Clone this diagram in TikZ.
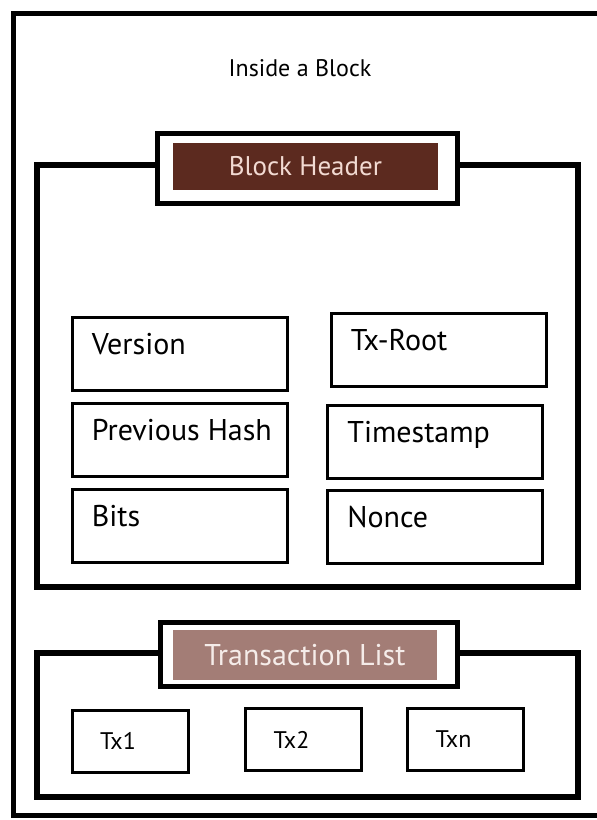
\documentclass[tikz,border=0pt]{standalone}
\usepackage{fontspec}
\setmainfont{PT Sans}
\usetikzlibrary{positioning}
\definecolor{hdrbrown}{HTML}{5C2A1F}
\definecolor{hdrtext}{HTML}{F2DAD2}
\definecolor{tlrose}{HTML}{A37D76}
\definecolor{tltext}{HTML}{F5ECE9}
\tikzset{
  frame/.style={line width=2.5pt},
  section/.style={rectangle, draw, line width=3pt, inner sep=0pt},
  tagbox/.style={rectangle, draw, fill=white, line width=2.5pt, minimum width=150pt, inner sep=0pt},
  field/.style={rectangle, draw, line width=1.5pt, minimum width=107.5pt, minimum height=36.5pt, inner sep=0pt},
  fieldtxt/.style={anchor=north west, inner sep=0pt, xshift=10.5pt, yshift=-8.5pt, font=\fontsize{15}{17}\selectfont},
  txbox/.style={rectangle, draw, line width=1.5pt, minimum width=58pt, minimum height=31pt, inner sep=0pt},
  txtxt/.style={inner sep=0pt, xshift=-6pt, font=\fontsize{12}{14}\selectfont}
}
\begin{document}
\begin{tikzpicture}[x=0.5pt,y=-0.5pt]
        \useasboundingbox (0,0) rectangle (597,820);

        % outer block frame (cut off on the right)
        \coordinate (topright) at (597,13);
        \coordinate (botright) at (597,815);
        \draw[frame] (topright) -| (13,815) -- (botright);
        \node[font=\fontsize{12}{14}\selectfont] (title) at (300,68) {Inside a Block};

        % block header
        \node[section, minimum width=270.5pt, minimum height=211pt] (hdr) at (307.5,376) {};
        \node[tagbox, minimum height=35pt] (hdrtag) at (307,168) {};
        \node[rectangle, fill=hdrbrown, text=hdrtext, minimum width=132.5pt, minimum height=23.5pt,
              font=\fontsize{13.5}{15}\selectfont] (hdrname) at (305.5,166.5) {Block Header};

        \node[field, label={[fieldtxt]north west:Version}] (version) at (179.5,353.5) {};
        \node[field, label={[fieldtxt]north west:Tx-Root}] (txroot) at (438.5,350) {};
        \node[field, label={[fieldtxt]north west:Previous Hash}] (prevhash) at (179.5,440) {};
        \node[field, label={[fieldtxt]north west:Timestamp}] (timestamp) at (435,441.5) {};
        \node[field, label={[fieldtxt]north west:Bits}] (bits) at (179.5,525.5) {};
        \node[field, label={[fieldtxt]north west:Nonce}] (nonce) at (435,526.5) {};

        % transaction list
        \node[section, minimum width=270.5pt, minimum height=72pt] (txlist) at (307.5,725) {};
        \node[tagbox, minimum width=148.5pt, minimum height=32pt] (txtag) at (308.5,654) {};
        \node[rectangle, fill=tlrose, text=tltext, minimum width=132pt, minimum height=25pt,
              font=\fontsize{15}{17}\selectfont] (txname) at (305,655) {Transaction List};

        \node[txbox, label={[txtxt]center:Tx1}] (tx1) at (130,741) {};
        \node[txbox, label={[txtxt]center:Tx2}] (tx2) at (303.5,739.5) {};
        \node[txbox, label={[txtxt]center:Txn}] (txn) at (465.5,739.5) {};

    \end{tikzpicture}
\end{document}
